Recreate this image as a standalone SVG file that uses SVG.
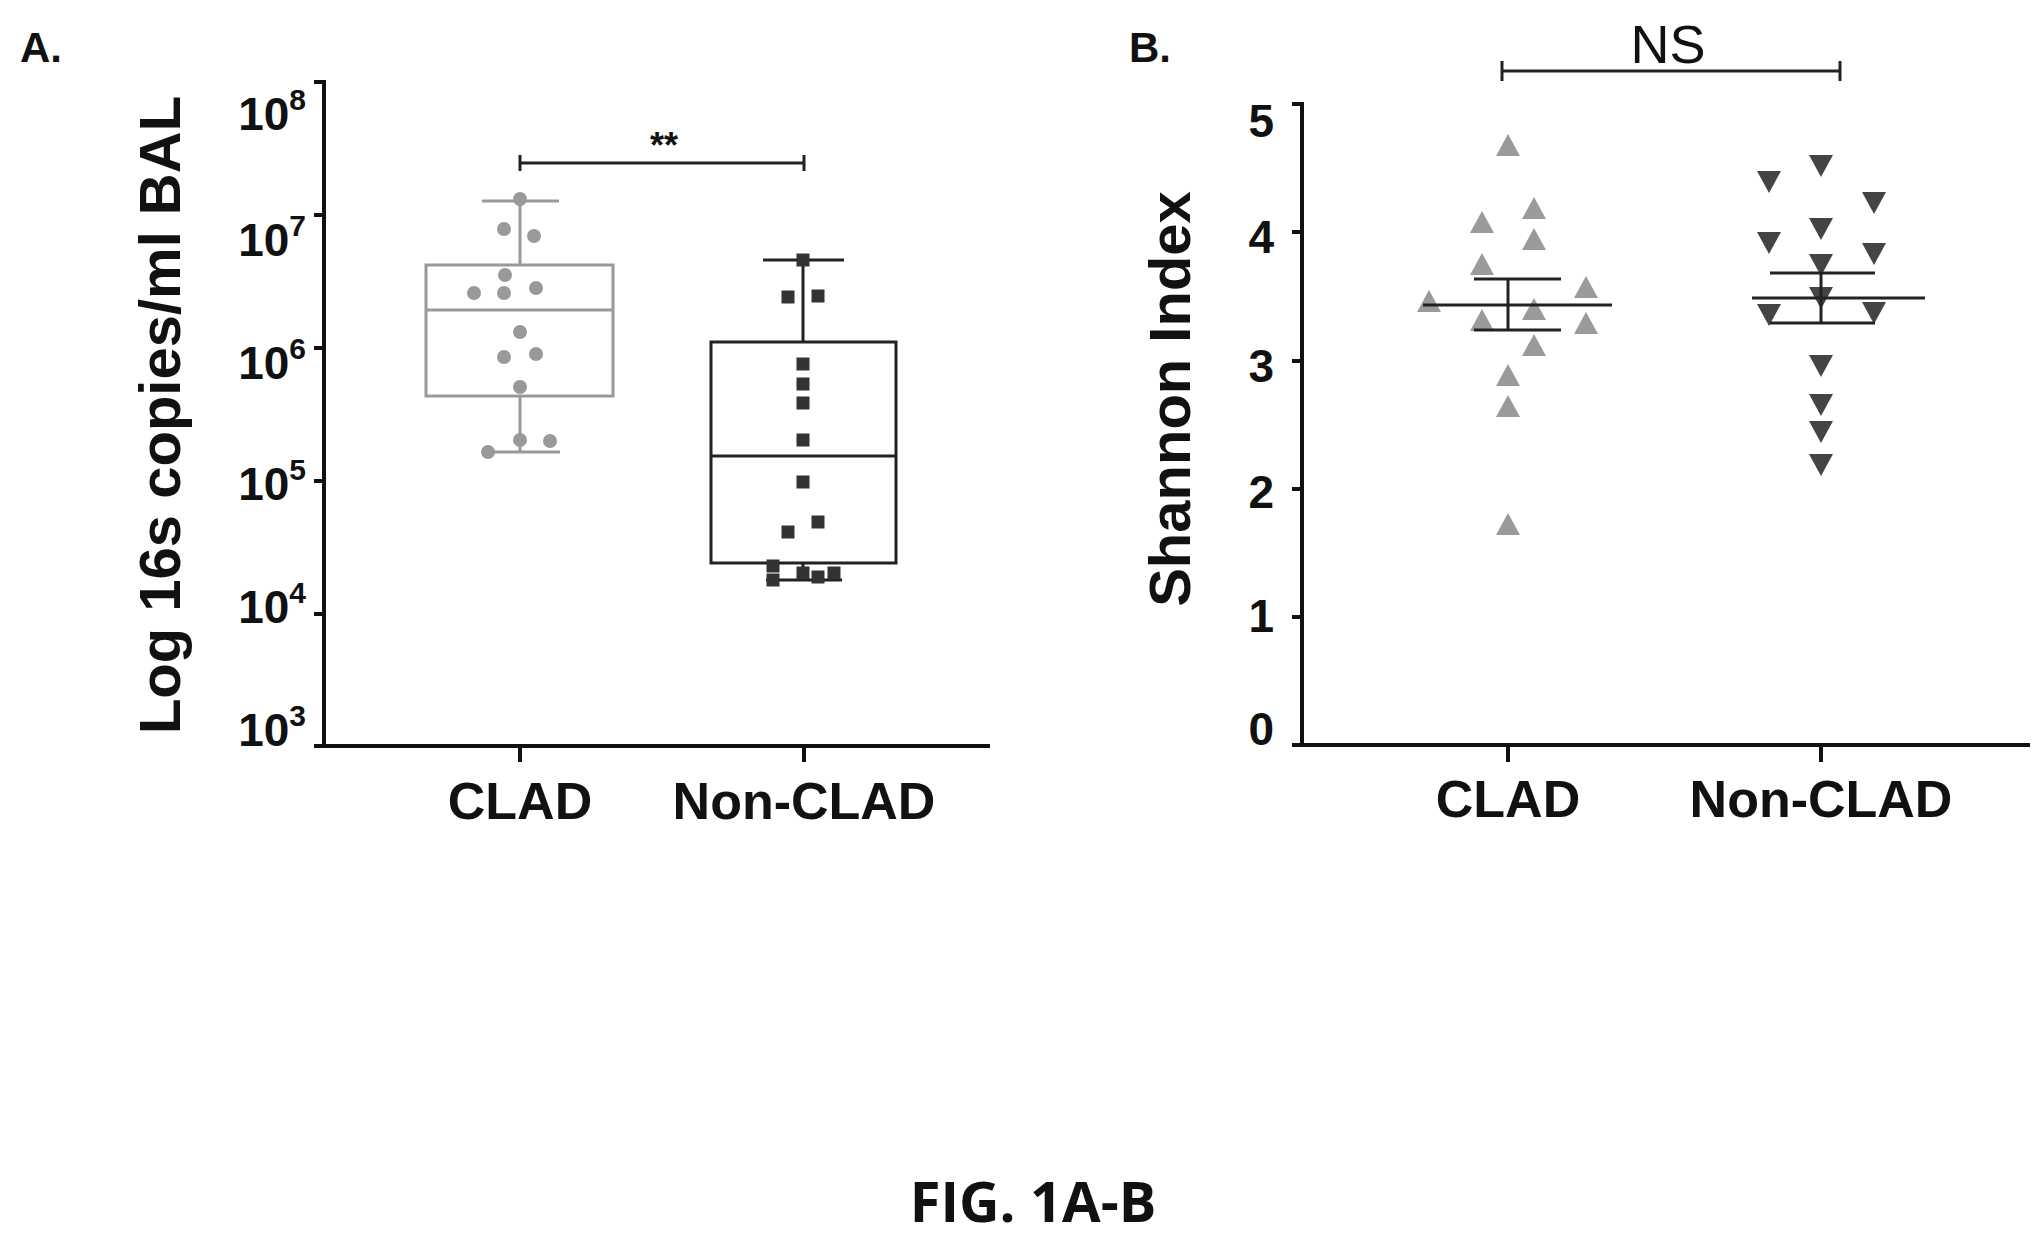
<svg xmlns="http://www.w3.org/2000/svg" width="2041" height="1239" viewBox="0 0 2041 1239">
<style>
.ax{stroke:#111;stroke-width:4;fill:none}
.t{font-family:"Liberation Sans",Arial,sans-serif;font-weight:bold;fill:#111}
.gl{stroke:#999;stroke-width:3;fill:none}
.dl{stroke:#222;stroke-width:3;fill:none}
</style>
<defs>
<circle id="c" r="7" fill="#999"/>
<rect id="s" x="-6.5" y="-6.5" width="13" height="13" fill="#333"/>
<path id="u" d="M0,-12 L12,10 L-12,10 Z" fill="#9a9a9a"/>
<path id="d" d="M0,12 L12,-10 L-12,-10 Z" fill="#444"/>
</defs>
<rect width="2041" height="1239" fill="#fff"/>
<g id="panelA">
<text class="t" x="20" y="62" font-size="42">A.</text>
<path class="ax" d="M324,80 V746 H990 M314,82 H324 M314,215 H324 M314,348 H324 M314,481 H324 M314,614 H324 M314,746 H324 M520,746 V762 M804,746 V762"/>
<g class="t" font-size="46" text-anchor="end">
<text x="306" y="130">10<tspan dy="-20" font-size="30">8</tspan></text>
<text x="306" y="256">10<tspan dy="-20" font-size="30">7</tspan></text>
<text x="306" y="379">10<tspan dy="-20" font-size="30">6</tspan></text>
<text x="306" y="500">10<tspan dy="-20" font-size="30">5</tspan></text>
<text x="306" y="623">10<tspan dy="-20" font-size="30">4</tspan></text>
<text x="306" y="746">10<tspan dy="-20" font-size="30">3</tspan></text>
</g>
<text class="t" font-size="58" text-anchor="middle" transform="translate(180,415) rotate(-90)">Log 16s copies/ml BAL</text>
<text class="t" font-size="52" text-anchor="middle" x="520" y="819">CLAD</text>
<text class="t" font-size="52" text-anchor="middle" x="804" y="819">Non-CLAD</text>
<path class="dl" d="M520,163 H804 M520,155 V171 M804,155 V171"/>
<text class="t" font-size="36" text-anchor="middle" x="664" y="158">**</text>
<path class="gl" d="M426,265 H613 V396 H426 Z M426,310 H613 M520,201 V265 M520,396 V452 M482,201 H559 M484,452 H560"/>
<path class="dl" d="M711,342 H896 V563 H711 Z M711,456 H896 M803,260 V342 M803,563 V580 M763,260 H844 M766,580 H842"/>
<g>
<use href="#c" x="520" y="199"/><use href="#c" x="504" y="229"/><use href="#c" x="534" y="236"/><use href="#c" x="505" y="275"/><use href="#c" x="474" y="293"/><use href="#c" x="504" y="293"/><use href="#c" x="536" y="288"/><use href="#c" x="520" y="332"/><use href="#c" x="504" y="357"/><use href="#c" x="536" y="354"/><use href="#c" x="520" y="387"/><use href="#c" x="488" y="452"/><use href="#c" x="520" y="440"/><use href="#c" x="550" y="441"/>
</g>
<g>
<use href="#s" x="803" y="260"/><use href="#s" x="788" y="297"/><use href="#s" x="818" y="296"/><use href="#s" x="803" y="364"/><use href="#s" x="803" y="384"/><use href="#s" x="803" y="403"/><use href="#s" x="803" y="440"/><use href="#s" x="803" y="482"/><use href="#s" x="788" y="532"/><use href="#s" x="818" y="522"/><use href="#s" x="773" y="566"/><use href="#s" x="773" y="580"/><use href="#s" x="803" y="573"/><use href="#s" x="834" y="573"/><use href="#s" x="818" y="577"/>
</g>
</g>
<g id="panelB">
<text class="t" x="1129" y="62" font-size="42">B.</text>
<path class="ax" d="M1302,102 V745 H2030 M1292,104 H1302 M1292,232 H1302 M1292,361 H1302 M1292,489 H1302 M1292,617 H1302 M1292,745 H1302 M1508,745 V762 M1821,745 V762"/>
<g class="t" font-size="46" text-anchor="end">
<text x="1274" y="137">5</text><text x="1274" y="253">4</text><text x="1274" y="382">3</text><text x="1274" y="508">2</text><text x="1274" y="632">1</text><text x="1274" y="745">0</text>
</g>
<text class="t" font-size="58" text-anchor="middle" transform="translate(1190,399) rotate(-90)">Shannon Index</text>
<text class="t" font-size="52" text-anchor="middle" x="1508" y="817">CLAD</text>
<text class="t" font-size="52" text-anchor="middle" x="1821" y="817">Non-CLAD</text>
<path class="dl" d="M1502,71 H1840 M1502,61 V81 M1840,61 V81"/>
<text font-family="Liberation Sans,Arial,sans-serif" font-size="54" fill="#111" text-anchor="middle" x="1668" y="63">NS</text>
<g>
<use href="#u" x="1508" y="146"/><use href="#u" x="1482" y="223"/><use href="#u" x="1534" y="209"/><use href="#u" x="1534" y="240"/><use href="#u" x="1482" y="265"/><use href="#u" x="1429" y="302"/><use href="#u" x="1482" y="321"/><use href="#u" x="1534" y="310"/><use href="#u" x="1586" y="288"/><use href="#u" x="1586" y="324"/><use href="#u" x="1534" y="346"/><use href="#u" x="1508" y="376"/><use href="#u" x="1508" y="407"/><use href="#u" x="1508" y="525"/>
</g>
<g>
<use href="#d" x="1769" y="181"/><use href="#d" x="1821" y="165"/><use href="#d" x="1874" y="202"/><use href="#d" x="1769" y="242"/><use href="#d" x="1821" y="228"/><use href="#d" x="1874" y="253"/><use href="#d" x="1821" y="264"/><use href="#d" x="1821" y="297"/><use href="#d" x="1769" y="314"/><use href="#d" x="1874" y="312"/><use href="#d" x="1821" y="365"/><use href="#d" x="1821" y="404"/><use href="#d" x="1821" y="431"/><use href="#d" x="1821" y="464"/>
</g>
<path class="dl" d="M1423,305 H1612 M1474,279 H1561 M1474,330 H1561 M1508,279 V330"/>
<path class="dl" d="M1752,298 H1925 M1770,273 H1875 M1770,323 H1875 M1821,273 V323"/>
</g>
<text font-family="Open Sans,Liberation Sans,sans-serif" font-weight="bold" font-size="56" fill="#111" text-anchor="middle" x="1033" y="1222">FIG. 1A-B</text>
</svg>
